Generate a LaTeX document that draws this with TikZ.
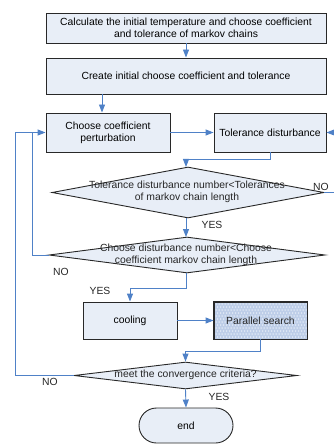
\documentclass[tikz,border=0pt]{standalone}
\usepackage{fontspec}
\setmainfont{Liberation Sans}
\usetikzlibrary{arrows.meta,shapes.geometric,shapes.misc}
\definecolor{boxfill}{RGB}{232,238,247}
\definecolor{linkblue}{RGB}{79,129,199}
\definecolor{edgegray}{RGB}{40,40,40}
\definecolor{parfill}{RGB}{190,206,232}
\definecolor{pardot}{RGB}{236,242,250}
\begin{document}
\begin{tikzpicture}[x=1bp,y=-1bp,
  font=\fontsize{10.4}{12}\selectfont,
  box/.style={draw=edgegray, line width=0.9bp, fill=boxfill, rectangle, inner sep=0pt, align=center},
  dia/.style={draw=edgegray, line width=0.9bp, fill=boxfill, diamond, inner sep=0pt},
  link/.style={draw=linkblue, line width=0.9bp, -{Triangle[width=6bp,length=8bp]}},
  plain/.style={draw=linkblue, line width=0.9bp},
  lbl/.style={inner sep=0pt, text=black!85}]
\useasboundingbox (0,0) rectangle (333,444);

\node[box, minimum width=280bp, minimum height=30bp] (b1) at (186,28)
  {Calculate the initial temperature and choose coefficient\\and tolerance of markov chains};
\node[box, minimum width=280bp, minimum height=36bp] (b2) at (186,76)
  {Create initial choose coefficient and tolerance};
\node[box, minimum width=124bp, minimum height=39bp] (b3) at (108,132.5)
  {Choose coefficient\\perturbation};
\node[box, minimum width=112bp, minimum height=39bp] (b4) at (270,132.5)
  {Tolerance disturbance};
\node[dia, minimum width=272bp, minimum height=51bp] (d1) at (188,192.5) {};
\node[lbl, align=center] (t1) at (187,191.5) {Tolerance disturbance number<Tolerances\\of markov chain length};
\node[dia, minimum width=276bp, minimum height=36bp] (d2) at (187,255) {};
\node[lbl, align=center] (t2) at (186,255) {Choose disturbance number<Choose\\coefficient markov chain length};
\node[box, minimum width=94bp, minimum height=37bp] (c) at (130,320.5) {cooling};
\node[box, minimum width=93bp, minimum height=37bp, fill=parfill] (p) at (260.5,320.5) {};
\foreach \i in {0,...,30} {
  \foreach \j in {0,...,11} {
    \pgfmathsetmacro{\dx}{216+3*\i+1.5*mod(\j,2)}
    \pgfmathsetmacro{\dy}{304+3*\j}
    \fill[pardot] (\dx,\dy) circle (0.75bp);
  }
}
\draw[edgegray, line width=0.9bp] (p.south west) rectangle (p.north east);
\node[lbl] (pt) at (p) {Parallel search};
\node[dia, minimum width=223bp, minimum height=27bp] (d3) at (185.5,375.5) {};
\node[lbl] (t3) at (185.5,375) {meet the convergence criteria?};
\node[draw=edgegray, line width=0.9bp, fill=boxfill, rounded rectangle, minimum width=94bp, minimum height=35bp, inner sep=0pt] (e) at (186,425.5) {end};

% connectors
\draw[link] (b1.south) -- (b2.north);
\draw[link] ([xshift=-6bp]b3.north |- b2.south) -- ([xshift=-6bp]b3.north);
\draw[link] (b3.east) -- (b4.west);
\draw[link] (b4.south) -- (270,159) -| (186,167);
\draw[link] (d1.east) -- (340,192.5) |- (b4.east);
\draw[link] (186,218) -- (186,237);
\draw[link] (d2.west) -- (32,255) |- (b3.west);
\draw[link] (186,273) -- (186,288) -| (c.north);
\draw[link] (c.east) -- (p.west);
\draw[link] (p.south) -- (260.5,351) -| (d3.north);
\draw[plain] (d3.west) -- (15,375.5) |- (32,132.5);
\draw[link] (d3.south) -- (e.north);

% labels
\node[lbl] (no1) at (321,187) {NO};
\node[lbl] (yes1) at (212,225) {YES};
\node[lbl] (no2) at (61,272) {NO};
\node[lbl] (yes2) at (100,291) {YES};
\node[lbl] (no3) at (50,382) {NO};
\node[lbl] (yes3) at (219,397) {YES};
\end{tikzpicture}
\end{document}
